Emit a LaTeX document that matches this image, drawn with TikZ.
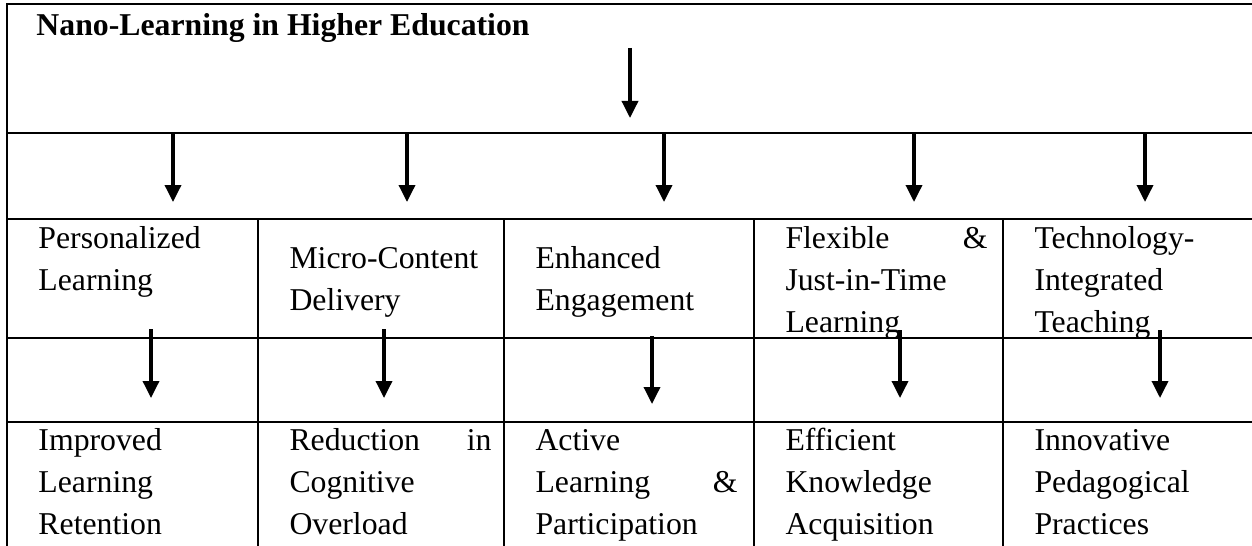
\documentclass[tikz,border=0pt]{standalone}
\usepackage{fontspec}
\setmainfont{Liberation Serif}
\usetikzlibrary{arrows.meta}
\begin{document}
\begin{tikzpicture}[x=0.4pt,y=-0.4pt,
    cell/.style={anchor=base west,inner sep=0pt,text width=80.8pt,align=left,
      font=\fontsize{12.7}{16.8}\selectfont},
    rule/.style={line width=0.8pt},
    flow/.style={line width=1.4pt,-{Triangle[width=6.4pt,length=6.8pt]}}]
  \useasboundingbox (0,0) rectangle (1252,546);
  % table frame and rules
  \draw[rule] (7,546) -- (7,4) -- (1252,4);
  \foreach \y in {133,219,338,422}
    \draw[rule] (7,\y) -- (1252,\y);
  \foreach \x in {258,504,754,1003}
    \draw[rule] (\x,219) -- (\x,546);
  % title
  \node[anchor=base west,inner sep=0pt,font=\fontsize{12.7}{16.8}\selectfont\bfseries]
    (title) at (36,36) {Nano-Learning in Higher Education};
  % first row of cells
  \node[cell] (pers) at (38,248) {Personalized\\Learning};
  \node[cell] (micro) at (289,268) {Micro-Content\\Delivery};
  \node[cell] (enh) at (535,268) {Enhanced\\Engagement};
  \node[cell] (flex) at (785,248) {Flexible\hfill\&\\Just-in-Time\\Learning};
  \node[cell] (tech) at (1034,248) {Technology-\\Integrated\\Teaching};
  % second row of cells
  \node[cell] (ret) at (38,450) {Improved\\Learning\\Retention};
  \node[cell] (cog) at (289,450) {Reduction\hfill in\\Cognitive\\Overload};
  \node[cell] (act) at (535,450) {Active\\Learning\hfill\&\\Participation};
  \node[cell] (know) at (785,450) {Efficient\\Knowledge\\Acquisition};
  \node[cell] (ped) at (1034,450) {Innovative\\Pedagogical\\Practices};
  % arrows
  \coordinate (t1) at (630,48);
  \coordinate (t2) at (630,118);
  \draw[flow] (t1) -- (t2);
  \foreach \x [count=\i] in {173,407,664,914,1145} {
    \coordinate (a\i) at (\x,133);
    \coordinate (b\i) at (\x,202);
    \draw[flow] (a\i) -- (b\i);
  }
  \foreach \x/\s/\e [count=\i] in {151/329/398,384/329/398,652/336/404,900/330/398,1160/330/398} {
    \coordinate (c\i) at (\x,\s);
    \coordinate (d\i) at (\x,\e);
    \draw[flow] (c\i) -- (d\i);
  }
\end{tikzpicture}
\end{document}
